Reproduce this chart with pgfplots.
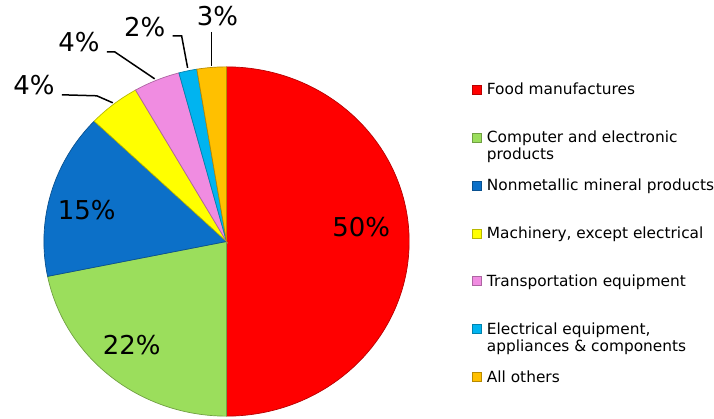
\documentclass[border=0pt]{standalone}
\usepackage{pgfplots}
\pgfplotsset{compat=1.18}
\usepackage{fontspec}
\setmainfont{DejaVu Sans}
\definecolor{cRed}{RGB}{255,0,0}
\definecolor{cGreen}{RGB}{155,222,92}
\definecolor{cBlue}{RGB}{12,112,200}
\definecolor{cYellow}{RGB}{255,255,0}
\definecolor{cPink}{RGB}{240,140,225}
\definecolor{cCyan}{RGB}{0,180,240}
\definecolor{cOrange}{RGB}{255,192,0}
% shares (percent), clockwise from the top
\def\vFood{50.0}
\def\vComp{21.8}
\def\vNonm{15.3}
\def\vMach{4.6}
\def\vTran{4.1}
\def\vElec{1.6}
\def\vOther{2.6}
\newcommand{\slice}[4]{%
  \pgfmathsetmacro\angA{90-3.6*(#1)}%
  \pgfmathsetmacro\angB{90-3.6*(#1+#2)}%
  \addplot[fill=#3, draw=#3!72!black, line width=0.7pt, domain=\angB:\angA, samples=120]
    ({227+183*cos(x)},{242-175*sin(x)}) -- (axis cs:227,242) -- cycle;
  \addlegendentry{#4}%
}
\newcommand{\twoline}[2]{\strut\raisebox{0pt}[0pt][0pt]{\begin{tabular}[t]{@{}l@{}}#1\\#2\end{tabular}}}
\begin{document}
\begin{tikzpicture}
\begin{axis}[
  width=714pt, height=419pt, scale only axis,
  xmin=0, xmax=714, ymin=0, ymax=419, y dir=reverse,
  hide axis, clip=false,
  legend image code/.code={\draw[#1] (0pt,-4.5pt) rectangle (9pt,4.5pt);},
  legend cell align=left,
  legend style={draw=none, fill=none, at={(axis cs:473,83)}, anchor=north west,
    font=\fontsize{15.4}{17}\selectfont, inner sep=0pt, row sep=34.6pt, column sep=5pt,
    nodes={inner sep=0pt}},
]
\path (axis cs:0,0) rectangle (axis cs:714,419);
\slice{0}{\vFood}{cRed}{\strut Food manufactures}
\slice{\vFood}{\vComp}{cGreen}{\twoline{Computer and electronic}{products}}
\slice{\vFood+\vComp}{\vNonm}{cBlue}{\strut Nonmetallic mineral products}
\slice{\vFood+\vComp+\vNonm}{\vMach}{cYellow}{\strut Machinery, except electrical}
\slice{\vFood+\vComp+\vNonm+\vMach}{\vTran}{cPink}{\strut Transportation equipment}
\slice{\vFood+\vComp+\vNonm+\vMach+\vTran}{\vElec}{cCyan}{\twoline{Electrical equipment,}{appliances \& components}}
\slice{\vFood+\vComp+\vNonm+\vMach+\vTran+\vElec}{\vOther}{cOrange}{\strut All others}
% leader lines
\addplot[forget plot, black, line width=1.5pt] coordinates {(62,95) (97,96) (113,103)};
\addplot[forget plot, black, line width=1.5pt] coordinates {(107,52) (115,52) (155,79)};
\addplot[forget plot, black, line width=1.5pt] coordinates {(173,36) (182,36) (188,68)};
\addplot[forget plot, black, line width=1.5pt] coordinates {(212,32) (212,66)};
% labels
\begin{scope}[every node/.style={font=\fontsize{26}{30}\selectfont, anchor=base, inner sep=0pt}]
\node at (axis cs:362,237) {50\%};
\node at (axis cs:132,355) {22\%};
\node at (axis cs:87,220) {15\%};
\node at (axis cs:34,95) {4\%};
\node at (axis cs:79,52) {4\%};
\node at (axis cs:145,37) {2\%};
\node at (axis cs:218,26) {3\%};
\end{scope}
\end{axis}
\end{tikzpicture}
\end{document}
